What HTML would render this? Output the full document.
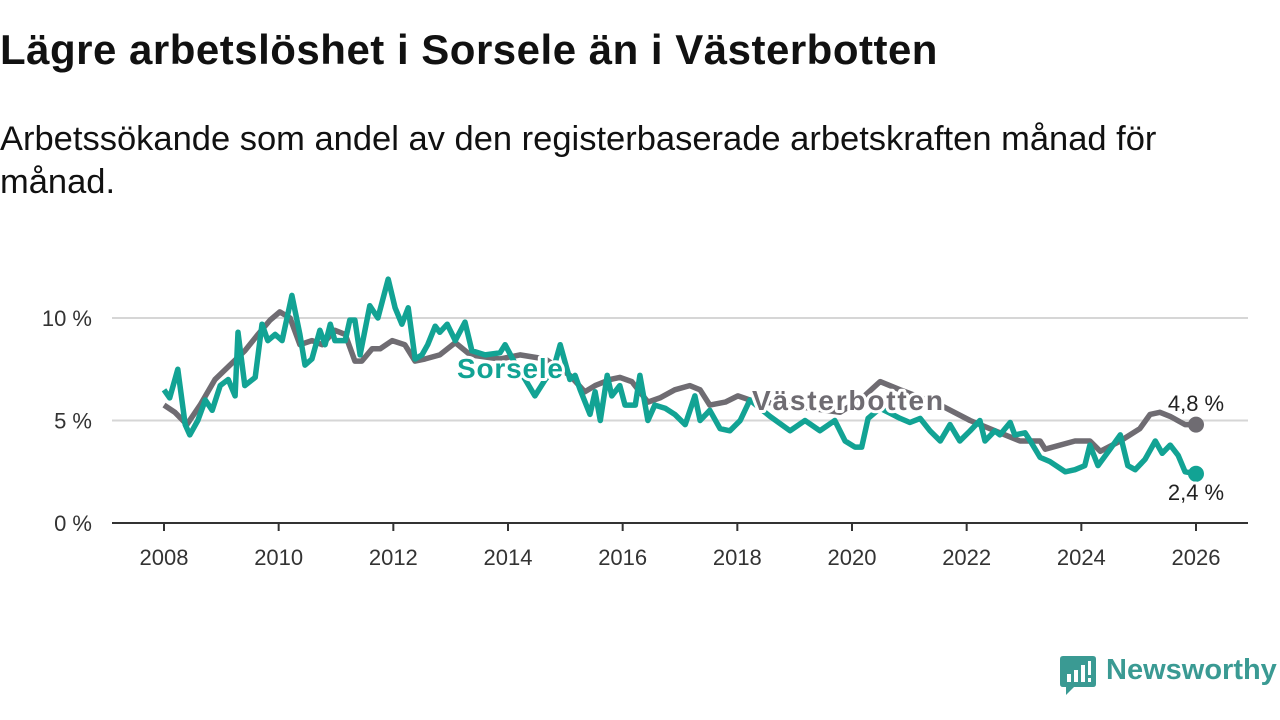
<!DOCTYPE html>
<html><head><meta charset="utf-8">
<style>
body{margin:0;width:1280px;height:720px;background:#fff;font-family:"Liberation Sans",sans-serif;overflow:hidden;position:relative}
h1{position:absolute;left:0;top:26px;margin:0;font-size:42px;font-weight:bold;color:#111;letter-spacing:0.5px;white-space:nowrap}
.sub{position:absolute;left:0;top:118px;margin:0;font-size:34.5px;line-height:43px;color:#111;width:1200px}
svg{position:absolute;left:0;top:0}
</style></head><body>
<h1>Lägre arbetslöshet i Sorsele än i Västerbotten</h1>
<p class="sub">Arbetssökande som andel av den registerbaserade arbetskraften månad för månad.</p>
<svg id="chart" width="1280" height="720"></svg>
<div style="position:absolute;left:1060px;top:656px;">
<svg width="36" height="40" style="position:absolute;left:0;top:0"><path d="M3 0H33Q36 0 36 3V28Q36 31 33 31H14L6 39V31H3Q0 31 0 28V3Q0 0 3 0Z" fill="#3a9a93"/><rect x="7" y="18" width="4" height="8" fill="#fff"/><rect x="14" y="14" width="4" height="12" fill="#fff"/><rect x="21" y="9" width="4" height="17" fill="#fff"/><rect x="28" y="5" width="3" height="14" fill="#fff"/><rect x="28" y="22" width="3" height="4" fill="#fff"/></svg>
<span style="position:absolute;left:46px;top:-2px;font-size:29px;font-weight:bold;color:#3a9a93;white-space:nowrap">Newsworthy</span>
</div>
<script>
const yTicks=[0,5,10];
const yTickLabels=["0 %","5 %","10 %"];
const xTicks=[2008,2010,2012,2014,2016,2018,2020,2022,2024,2026];
const vbYears=[2008.00,2008.19,2008.40,2008.63,2008.89,2009.15,2009.41,2009.64,2009.85,2010.02,2010.20,2010.37,2010.58,2010.76,2010.98,2011.16,2011.33,2011.45,2011.63,2011.77,2011.98,2012.20,2012.38,2012.55,2012.81,2013.08,2013.34,2013.86,2014.21,2014.65,2015.08,2015.34,2015.52,2015.78,2015.95,2016.16,2016.44,2016.65,2016.91,2017.17,2017.35,2017.52,2017.79,2018.01,2018.22,2018.74,2019.27,2019.79,2020.14,2020.49,2020.84,2021.54,2022.06,2022.58,2022.93,2023.28,2023.37,2023.89,2024.15,2024.33,2024.68,2025.02,2025.20,2025.37,2025.55,2025.81,2026.00];
const vbValues=[5.75,5.4,4.8,5.75,7.0,7.7,8.4,9.2,9.9,10.3,10.0,8.7,8.9,8.7,9.4,9.2,7.9,7.9,8.5,8.5,8.9,8.7,7.9,8.0,8.2,8.8,8.2,8.0,8.2,8.0,7.2,6.4,6.7,7.0,7.1,6.9,5.9,6.1,6.5,6.7,6.5,5.75,5.9,6.2,6.0,5.8,5.6,5.4,6.0,6.9,6.5,5.75,5.0,4.4,4.0,4.0,3.6,4.0,4.0,3.5,4.0,4.6,5.3,5.4,5.2,4.8,4.8];
const soYears=[2008.00,2008.10,2008.24,2008.37,2008.45,2008.59,2008.72,2008.84,2008.98,2009.12,2009.24,2009.29,2009.41,2009.59,2009.71,2009.81,2009.94,2010.06,2010.23,2010.37,2010.46,2010.58,2010.72,2010.81,2010.90,2010.98,2011.16,2011.24,2011.33,2011.42,2011.59,2011.73,2011.91,2012.03,2012.15,2012.26,2012.38,2012.50,2012.60,2012.73,2012.81,2012.94,2013.08,2013.25,2013.37,2013.60,2013.86,2013.95,2014.12,2014.30,2014.47,2014.65,2014.79,2014.91,2015.08,2015.17,2015.26,2015.43,2015.52,2015.61,2015.73,2015.81,2015.95,2016.04,2016.22,2016.30,2016.44,2016.56,2016.74,2016.91,2017.09,2017.26,2017.35,2017.52,2017.70,2017.87,2018.05,2018.22,2018.57,2018.92,2019.18,2019.44,2019.70,2019.88,2020.05,2020.17,2020.28,2020.49,2020.84,2021.01,2021.19,2021.36,2021.54,2021.71,2021.88,2022.06,2022.23,2022.32,2022.49,2022.58,2022.76,2022.84,2023.02,2023.11,2023.28,2023.45,2023.72,2023.89,2024.06,2024.15,2024.29,2024.50,2024.68,2024.81,2024.94,2025.11,2025.29,2025.41,2025.55,2025.69,2025.81,2026.00];
const soValues=[6.5,6.1,7.5,4.8,4.3,5.0,6.0,5.5,6.7,7.0,6.2,9.3,6.7,7.1,9.7,8.9,9.2,8.9,11.1,9.2,7.7,8.0,9.4,8.7,9.7,8.9,8.9,9.9,9.9,8.2,10.6,10.0,11.9,10.5,9.7,10.5,8.0,8.2,8.7,9.6,9.3,9.7,8.9,9.8,8.4,8.2,8.3,8.7,7.8,7.0,6.2,7.0,7.5,8.7,7.0,7.2,6.5,5.3,6.4,5.0,7.2,6.2,6.7,5.75,5.75,7.2,5.0,5.75,5.6,5.3,4.8,6.2,5.0,5.5,4.6,4.5,5.0,6.0,5.2,4.5,5.0,4.5,5.0,4.0,3.7,3.7,5.1,5.6,5.1,4.9,5.1,4.5,4.0,4.8,4.0,4.5,5.0,4.0,4.5,4.3,4.9,4.3,4.4,4.0,3.2,3.0,2.5,2.6,2.8,3.8,2.8,3.6,4.3,2.8,2.6,3.1,4.0,3.4,3.8,3.3,2.5,2.4];
const NS="http://www.w3.org/2000/svg";
const svg=document.getElementById('chart');
const X0=112,X1=1248;
const x=y=>164+(y-2008)*(1196-164)/18;
const yS=v=>523-v*(523-318)/10;
function el(t,a,p){const e=document.createElementNS(NS,t);for(const k in a)e.setAttribute(k,a[k]);(p||svg).appendChild(e);return e;}
yTicks.forEach((t,i)=>{
  if(t>0){const g=el('line',{x1:X0,x2:X1,y1:yS(t),y2:yS(t),stroke:'#d6d6d6','stroke-width':2});
  
  }
  const tx=el('text',{x:92,y:yS(t)+8,'text-anchor':'end','font-size':22,fill:'#333'});
  tx.textContent=yTickLabels[i];
  
  
});
const ax=el('line',{x1:X0,x2:X1,y1:523,y2:523,stroke:'#333','stroke-width':2});


xTicks.forEach(t=>{
  const tk=el('line',{x1:x(t),x2:x(t),y1:523,y2:531,stroke:'#333','stroke-width':2});
  
  
  const tx=el('text',{x:x(t),y:565,'text-anchor':'middle','font-size':22,fill:'#333'});
  tx.textContent=t;
  
  
});
function path(ys,vs){return ys.map((yy,i)=>(i?'L':'M')+x(yy).toFixed(1)+','+yS(vs[i]).toFixed(1)).join('');}
const lv=el('path',{d:path(vbYears,vbValues),fill:'none',stroke:'#6f6c72','stroke-width':5.5,'stroke-linejoin':'round'});


const ls=el('path',{d:path(soYears,soValues),fill:'none',stroke:'#12a394','stroke-width':5.5,'stroke-linejoin':'round'});


const lastV=vbValues[vbValues.length-1],lastS=soValues[soValues.length-1];
const dv=el('circle',{cx:x(vbYears[vbYears.length-1]),cy:yS(lastV),r:8,fill:'#6f6c72'});


const ds=el('circle',{cx:x(soYears[soYears.length-1]),cy:yS(lastS),r:8,fill:'#12a394'});


function lab(t,xx,yy,c,sz,w,anchor,name,ls){const e=el('text',{x:xx,y:yy,fill:c,'font-size':sz,'font-weight':w,'text-anchor':anchor||'start',stroke:'#fff','stroke-width':6,'paint-order':'stroke','stroke-linejoin':'round','letter-spacing':ls||0});e.textContent=t;

}
lab('Sorsele',457,378,'#12a394',28,'bold','start','sorsele-label',0.8);
lab('Västerbotten',752,410,'#6f6c72',28,'bold','start','vasterbotten-label',1.8);
lab(String(lastV).replace('.',',')+' %',1196,411,'#222',22,'normal','middle','vasterbotten-end-value');
lab(String(lastS).replace('.',',')+' %',1196,500,'#222',22,'normal','middle','sorsele-end-value');
</script>
</body></html>
